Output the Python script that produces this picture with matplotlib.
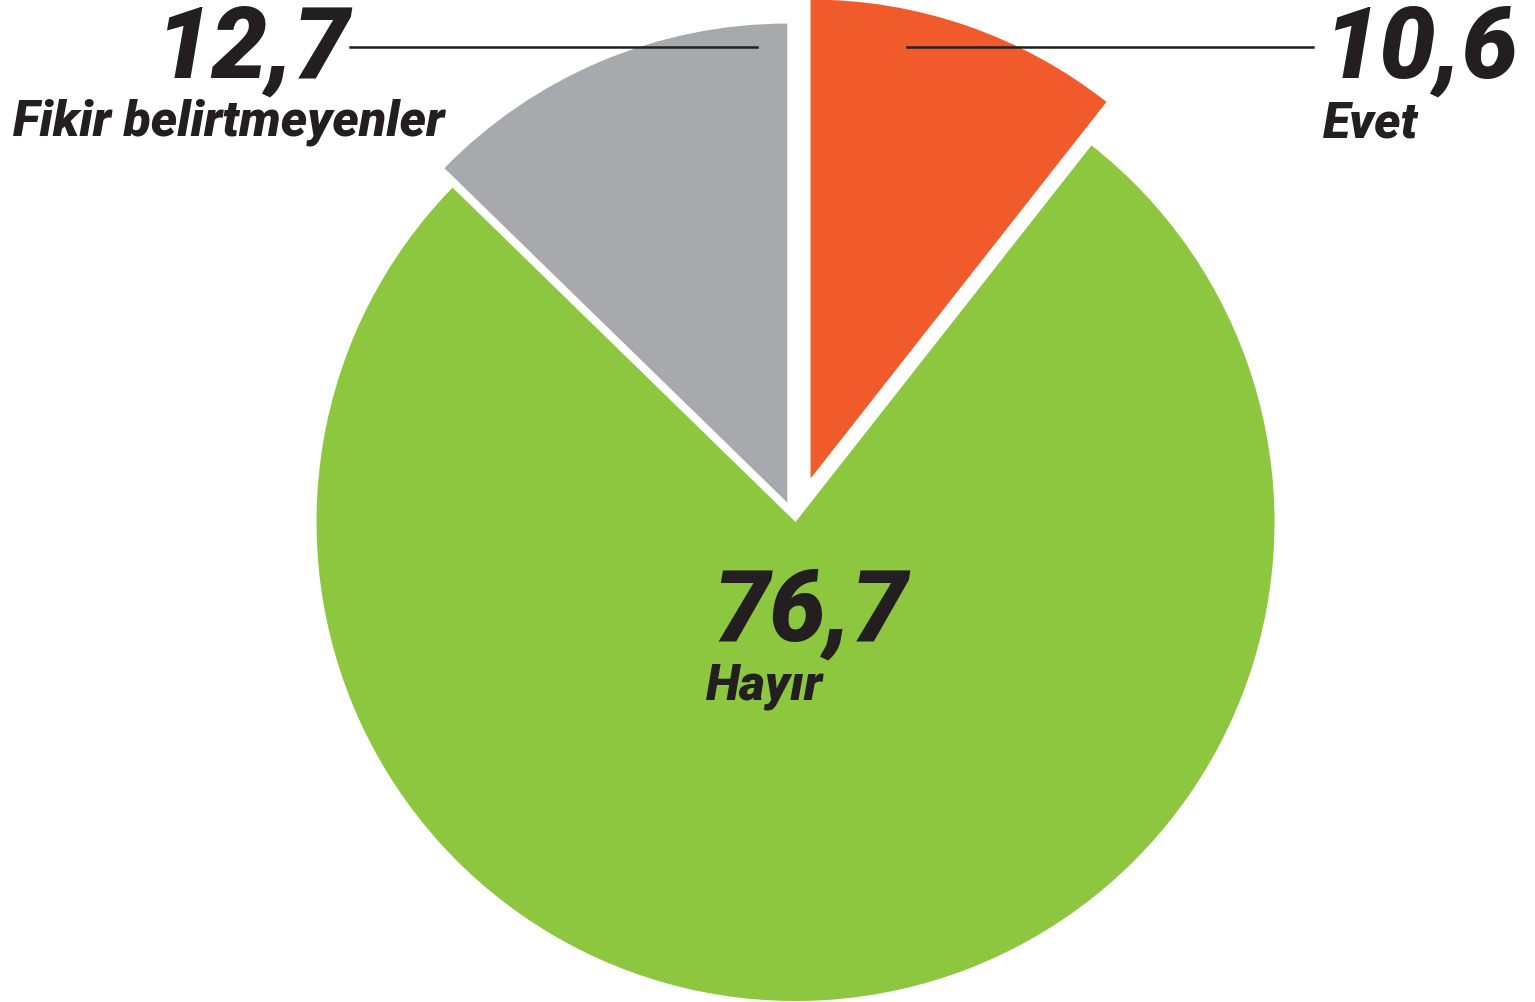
import matplotlib
matplotlib.use('Agg')
import matplotlib.pyplot as plt

# anket sonuclari (%)
labels = ['Evet', 'Hayır', 'Fikir belirtmeyenler']
values = [10.6, 76.7, 12.7]
value_text = ['10,6', '76,7', '12,7']
colors = ['#F15A2B', '#8DC63F', '#A7A9AC']

W, H = 1535, 1003
fig = plt.figure(figsize=(W / 100, H / 100), dpi=100)
ax = fig.add_axes([0, 0, 1, 1])

# pie center / radius in pixels
cx, cy, R = 795.5, 523, 479

ax.pie(values, colors=colors, startangle=90, counterclock=False,
       explode=[0.096, 0, 0.044], radius=1,
       wedgeprops=dict(linewidth=0))
ax.set_xlim(-cx / R, (W - cx) / R)
ax.set_ylim((cy - H) / R, cy / R)
ax.set_aspect('equal')
ax.axis('off')

txt = '#231F20'
font = dict(family=['Roboto', 'DejaVu Sans'], weight='black', style='italic', color=txt)


def put(x, y, s, size, ha):
    fig.text(x / W, 1 - y / H, s, fontsize=size, ha=ha, va='baseline', **font)


# Fikir belirtmeyenler (left)
put(350, 78, value_text[2], 72, 'right')
put(13, 136, labels[2], 36, 'left')
fig.add_artist(plt.Line2D([350 / W, 757 / W], [1 - 48 / H, 1 - 48 / H],
                          color=txt, linewidth=1.8))

# Evet (right)
put(1323, 78, value_text[0], 72, 'left')
put(1323, 137, labels[0], 36, 'left')
fig.add_artist(plt.Line2D([907 / W, 1313 / W], [1 - 48 / H, 1 - 48 / H],
                          color=txt, linewidth=1.8))

# Hayir (center)
put(713, 641, value_text[1], 72, 'left')
put(706, 699, labels[1], 36, 'left')

fig.savefig('out.png', dpi=100)
